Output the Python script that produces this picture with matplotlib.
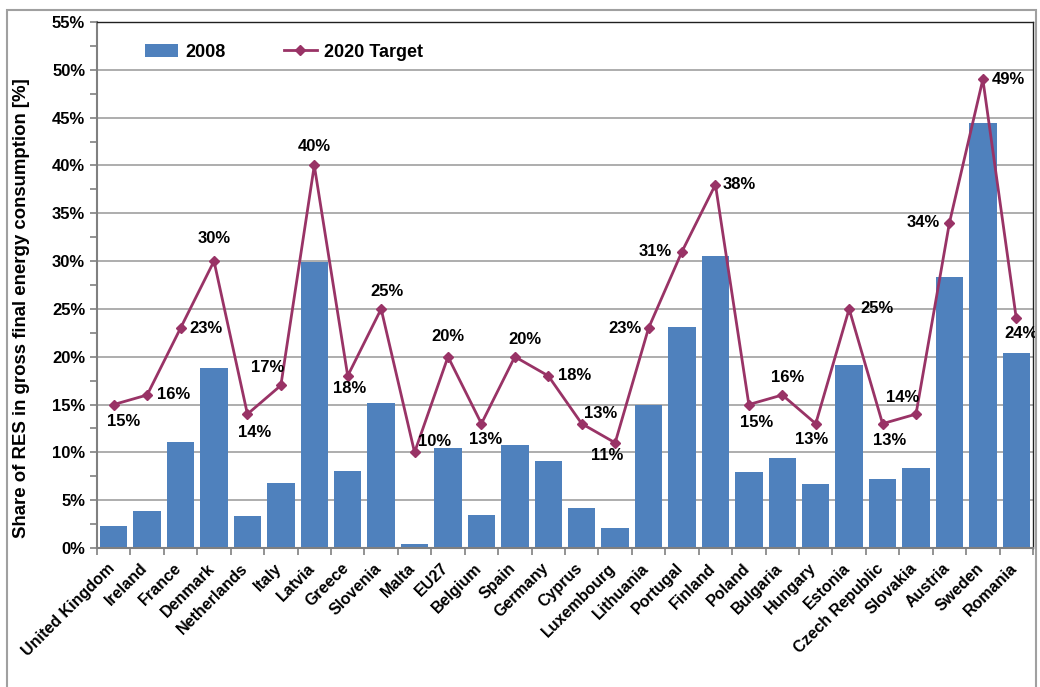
import matplotlib
matplotlib.use("Agg")
import matplotlib.pyplot as plt
from matplotlib.patches import Rectangle
from matplotlib.ticker import MultipleLocator, FuncFormatter
from matplotlib.transforms import ScaledTranslation
import numpy as np

plt.rcParams['font.family'] = ['Liberation Sans', 'DejaVu Sans']
plt.rcParams['font.weight'] = 'bold'

countries = ["United Kingdom", "Ireland", "France", "Denmark", "Netherlands", "Italy",
             "Latvia", "Greece", "Slovenia", "Malta", "EU27", "Belgium", "Spain",
             "Germany", "Cyprus", "Luxembourg", "Lithuania", "Portugal", "Finland",
             "Poland", "Bulgaria", "Hungary", "Estonia", "Czech Republic", "Slovakia",
             "Austria", "Sweden", "Romania"]
share_2008 = [2.3, 3.9, 11.1, 18.8, 3.3, 6.8, 29.9, 8.0, 15.2, 0.4, 10.5, 3.4, 10.8,
              9.1, 4.2, 2.1, 15.0, 23.1, 30.5, 7.9, 9.4, 6.7, 19.1, 7.2, 8.4,
              28.3, 44.4, 20.4]
target_2020 = [15, 16, 23, 30, 14, 17, 40, 18, 25, 10, 20, 13, 20, 18, 13, 11, 23, 31,
               38, 15, 16, 13, 25, 13, 14, 34, 49, 24]
# label offsets in pixels (dx, dy upward positive)
label_offsets = [(10, -17), (26, 0), (25, 0), (0, 23), (7, -18), (-13, 18), (0, 19),
                 (2, -13), (6, 17), (20, 11), (0, 20), (4, -16), (10, 17), (26, 0),
                 (19, 10), (-8, -13), (-24, 0), (-27, 0), (24, 0), (8, -18), (5, 17),
                 (-4, -16), (28, 0), (7, -17), (-13, 17), (-26, 0), (26, 0), (5, -15)]

W, H = 1040, 687
fig = plt.figure(figsize=(W / 100, H / 100), dpi=100)
ax = fig.add_axes([97 / W, 1 - 548 / H, (1033 - 97) / W, (548 - 22) / H])

x = np.arange(len(countries))
bar_color = '#4F81BD'
line_color = '#993366'

bars = ax.bar(x, share_2008, width=0.82, color=bar_color, label='2008', zorder=2)
line, = ax.plot(x, target_2020, color=line_color, lw=2, marker='D', markersize=5,
                label='2020 Target', zorder=3)

px2pt = 72 / 100
for xi, v, (dx, dy) in zip(x, target_2020, label_offsets):
    ax.annotate(f"{v}%", (xi, v), xytext=(dx * px2pt, dy * px2pt),
                textcoords='offset points', ha='center', va='center',
                fontsize=12, fontweight='bold', color='black', zorder=4)

ax.set_xlim(-0.5, len(countries) - 0.5)
ax.set_ylim(0, 55)
ax.yaxis.set_major_locator(MultipleLocator(5))
ax.yaxis.set_minor_locator(MultipleLocator(2.5))
ax.yaxis.set_major_formatter(FuncFormatter(lambda v, p: f"{v:.0f}%"))
ax.grid(axis='y', which='major', color='#A0A0A0', lw=1.2, zorder=0)
ax.set_axisbelow(True)

ax.set_xticks(x)
ax.set_xticklabels(countries, rotation=45, ha='right', va='top',
                   rotation_mode='anchor', fontsize=11.5, fontweight='bold')
ax.tick_params(axis='x', which='major', length=0, pad=9)
shift = ScaledTranslation(-7 / 100, 0, fig.dpi_scale_trans)
for lab in ax.get_xticklabels():
    lab.set_transform(lab.get_transform() + shift)
ax.set_xticks(np.arange(-0.5, len(countries), 1), minor=True)
ax.tick_params(axis='x', which='minor', length=5, width=1.2, color='#808080', direction='out')
ax.tick_params(axis='y', which='both', length=5, width=1.2, color='#808080', direction='out')
ax.tick_params(axis='y', labelsize=12)
for lab in ax.get_yticklabels():
    lab.set_fontweight('bold')

for s in ['left', 'bottom']:
    ax.spines[s].set_color('#808080')
    ax.spines[s].set_linewidth(1.5)
for s in ['top', 'right']:
    ax.spines[s].set_color('#202020')
    ax.spines[s].set_linewidth(1.0)

ax.set_ylabel("Share of RES in gross final energy consumption [%]", fontsize=13.4,
              fontweight='bold')
ax.yaxis.set_label_coords(-0.072, 0.456)

leg = ax.legend(handles=[bars, line], ncol=2, loc='upper left',
                bbox_to_anchor=(0.034, 0.99), frameon=False,
                fontsize=13, handlelength=1.85, columnspacing=3.2, handletextpad=0.4)
for t in leg.get_texts():
    t.set_fontweight('bold')

# outer chart frame
fig.patches.append(Rectangle((7 / W, -0.05), (1036 - 7) / W, 1 - 10 / H + 0.05,
                             transform=fig.transFigure, fill=False,
                             edgecolor='#A0A0A0', lw=1.5))

fig.savefig("out.png", dpi=100)
